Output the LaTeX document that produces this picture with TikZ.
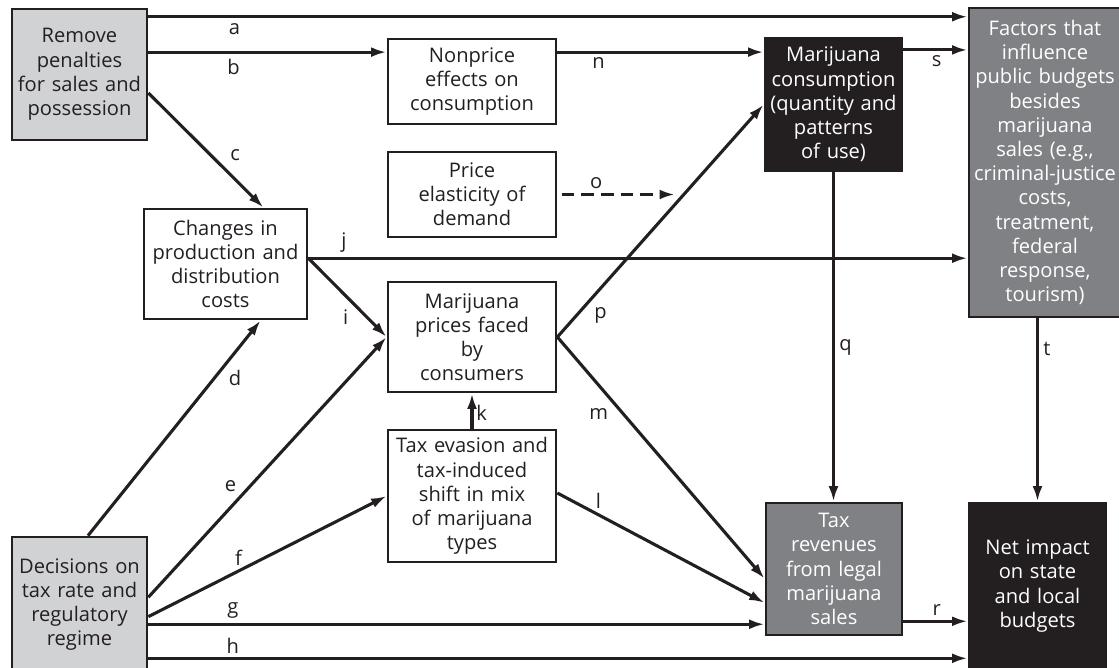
\documentclass[tikz,border=0pt]{standalone}
\usepackage{fontspec}
\setmainfont{Open Sans}
\usetikzlibrary{arrows.meta}

\definecolor{inkblack}{HTML}{231F20}
\definecolor{palegrey}{HTML}{D1D2D4}
\definecolor{midgrey}{HTML}{808184}

\begin{document}
\begin{tikzpicture}[x=0.025cm, y=-0.025cm,
    every node/.style={font=\fontsize{14.3}{17.2}\selectfont, text=inkblack},
    box/.style={draw=inkblack, line width=1.9pt, align=center, inner sep=0pt, fill=white},
    greybox/.style={box, fill=palegrey},
    darkbox/.style={box, fill=midgrey, text=white},
    blackbox/.style={box, fill=inkblack, text=white},
    arr/.style={draw=inkblack, line width=2.2pt, -{Latex[length=11pt,width=7pt]}},
    lbl/.style={inner sep=0pt}]
\useasboundingbox (0,0) rectangle (1119,667);

% boxes
\node[greybox, text width=3.375cm, minimum height=3.275cm] (remove) at (79.5,74.5) {Remove\\penalties\\for sales and\\possession};
\node[greybox, text width=3.375cm, minimum height=3.375cm] (decide) at (79.5,604.5) {Decisions on\\tax rate and\\regulatory\\regime};
\node[box, text width=4.075cm, minimum height=2.75cm] (changes) at (225.5,264) {Changes in\\production and\\distribution\\costs};
\node[box, text width=4.2cm, minimum height=2.125cm] (nonprice) at (472,81.5) {Nonprice\\effects on\\consumption};
\node[box, text width=4.2cm, minimum height=2.125cm] (elastic) at (472,194.5) {Price\\elasticity of\\demand};
\node[box, text width=4.2cm, minimum height=2.75cm] (prices) at (472,337) {Marijuana\\prices faced\\by\\consumers};
\node[box, text width=4.2cm, minimum height=3.3cm] (evasion) at (472,496) {Tax evasion and\\tax-induced\\shift in mix\\of marijuana\\types};
\node[blackbox, text width=3.425cm, minimum height=3.325cm] (consume) at (833.5,104.5) {Marijuana\\consumption\\(quantity and\\patterns\\of use)};
\node[darkbox, text width=3.4cm, minimum height=3.3cm] (taxrev) at (834,569) {Tax\\revenues\\from legal\\marijuana\\sales};
\node[darkbox, text width=3.8cm, minimum height=7.725cm] (factors) at (1045,162.5) {Factors that\\influence\\public budgets\\besides\\marijuana\\sales (e.g.,\\criminal-justice\\costs,\\treatment,\\federal\\response,\\tourism)};
\node[blackbox, text width=3.425cm, minimum height=4.15cm] (netimp) at (1037.5,586) {Net impact\\on state\\and local\\budgets};
\coordinate (otip) at (675,194.5);

% links
\draw[arr] (remove.40) -- (remove.40 -| factors.west) node[lbl,pos=.105,below=4pt] {a};
\draw[arr] (remove.18) -- (remove.18 -| nonprice.west) node[lbl,pos=.357,below=4pt] {b};
\draw[arr] (remove.-15) -- (changes.56) node[lbl,pos=.65,above right=4pt] {c};
\draw[arr] (decide.83) -- (changes.-58) node[lbl,pos=.79,below right=2pt] {d};
\draw[arr] (decide.6) -- (prices.west) node[lbl,pos=.387,above left=2pt] {e};
\draw[arr] (decide.-10) -- (evasion.west) node[lbl,pos=.378,above=3pt] {f};
\draw[arr] (decide.-16) -- (decide.-16 -| taxrev.west) node[lbl,pos=.137,above=3pt] {g};
\draw[arr] (decide.-38) -- (decide.-38 -| netimp.west) node[lbl,pos=.103,above=2pt] {h};
\draw[arr] (changes.4) -- (prices.west) node[lbl,pos=.584,below left=3pt] {i};
\draw[arr] (changes.4) -- (changes.4 -| factors.west) node[lbl,pos=.054,above=3pt] {j};
\draw[arr] (evasion.north) -- (prices.south) node[lbl,pos=.45,right=2pt] {k};
\draw[arr] (evasion.2) -- (taxrev.206) node[lbl,pos=.171,above right=1pt] {l};
\draw[arr] (prices.east) -- (taxrev.188) node[lbl,pos=.273,below left=3pt] {m};
\draw[arr] (nonprice.19) -- (nonprice.19 -| consume.west) node[lbl,pos=.2,below=3pt] {n};
\draw[arr, dash pattern=on 9pt off 5pt, shorten <=3pt] (elastic.east) -- (otip) node[lbl,pos=.33,above=3pt] {o};
\draw[arr] (prices.east) -- (consume.west) node[lbl,pos=.151,below right=3pt] {p};
\draw[arr] (consume.south) -- (consume.south |- taxrev.north) node[lbl,pos=.533,right=3pt] {q};
\draw[arr] (taxrev.-37) -- (taxrev.-37 -| netimp.west) node[lbl,pos=.52,above=3pt] {r};
\draw[arr] (consume.38) -- (consume.38 -| factors.west) node[lbl,pos=.52,below=3pt] {s};
\draw[arr] (netimp.north |- factors.south) -- (netimp.north) node[lbl,pos=.167,right=3pt] {t};
\end{tikzpicture}
\end{document}
